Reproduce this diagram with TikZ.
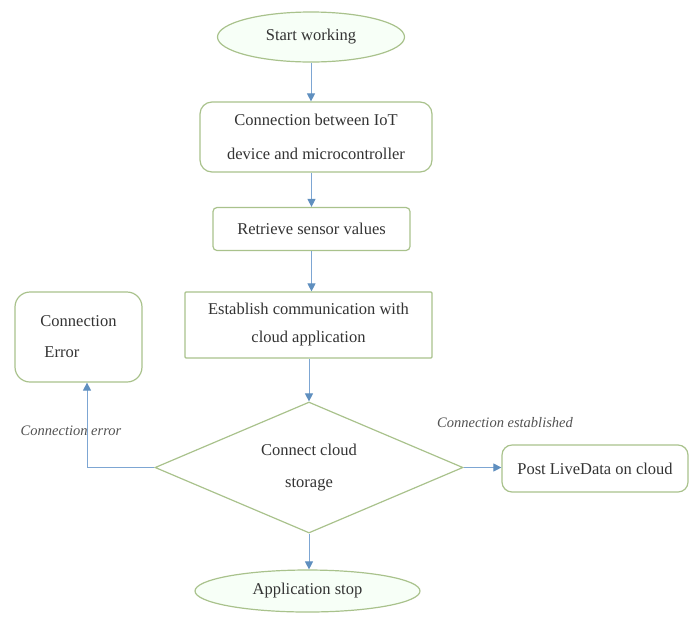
\documentclass[tikz,border=0pt]{standalone}
\usepackage{fontspec}
\setmainfont{Liberation Serif}
\usetikzlibrary{shapes.geometric,arrows.meta,calc}
\definecolor{boxline}{HTML}{A9C28C}
\definecolor{arrowc}{HTML}{7DA6D3}
\definecolor{arrowh}{HTML}{5F8FBF}
\definecolor{txt}{HTML}{333333}
\tikzset{
  base/.style={draw=boxline, line width=1.2pt, text=txt, inner sep=0pt, font=\fontsize{16.5}{34}\selectfont, align=center},
  oval/.style={base, ellipse, fill=green!3},
  rbox/.style={base, rectangle, rounded corners=#1, fill=white},
  dia/.style={base, diamond, aspect=2.35, fill=white},
  arr/.style={draw=arrowc, line width=1pt, -{Triangle[length=8pt,width=8pt,color=arrowh]}},
  lab/.style={font=\fontsize{14.5}{16}\selectfont\itshape, text=txt!85, inner sep=0pt}
}
\begin{document}
\begin{tikzpicture}[x=1pt,y=-1pt]
\useasboundingbox (0,0) rectangle (692,619);
\node[oval, minimum width=187, minimum height=50] (start) at (311,37) {Start working};
\node[rbox=12pt, minimum width=232, minimum height=70] (conn) at (316,137) {Connection between IoT\\device and microcontroller};
\node[rbox=4pt, minimum width=197, minimum height=43] (ret) at (311.5,229) {Retrieve sensor values};
\node[rbox=1pt, minimum width=247, minimum height=66, font=\fontsize{16.5}{28}\selectfont] (est) at (308.5,325) {Establish communication with\\cloud application};
\node[dia, minimum width=308, minimum height=131, font=\fontsize{16.5}{32}\selectfont] (cc) at (309,467.5) {Connect cloud\\storage};
\node[rbox=10pt, minimum width=186, minimum height=47] (post) at (595,468.5) {Post LiveData on cloud};
\node[rbox=15pt, minimum width=127, minimum height=90, align=left, font=\fontsize{16.5}{31}\selectfont] (err) at (78.5,337) {Connection\\\hspace{4pt}Error};
\node[oval, minimum width=225, minimum height=42] (stop) at (307.5,591) {Application stop};
\node[lab] (le) at (505,423) {Connection established};
\node[lab] (lr) at (71,431) {Connection error};
\draw[arr] (start.south) -- (start.south |- conn.north);
\draw[arr] (ret.north |- conn.south) -- (ret.north);
\draw[arr] (ret.south) -- (ret.south |- est.north);
\draw[arr] (cc.north |- est.south) -- (cc.north);
\draw[arr] (cc.south) -- (cc.south |- stop.north);
\draw[arr] (cc.east) -- (cc.east -| post.west);
\draw[arr] (cc.west) -| ([xshift=8.5pt]err.south);
\end{tikzpicture}
\end{document}
